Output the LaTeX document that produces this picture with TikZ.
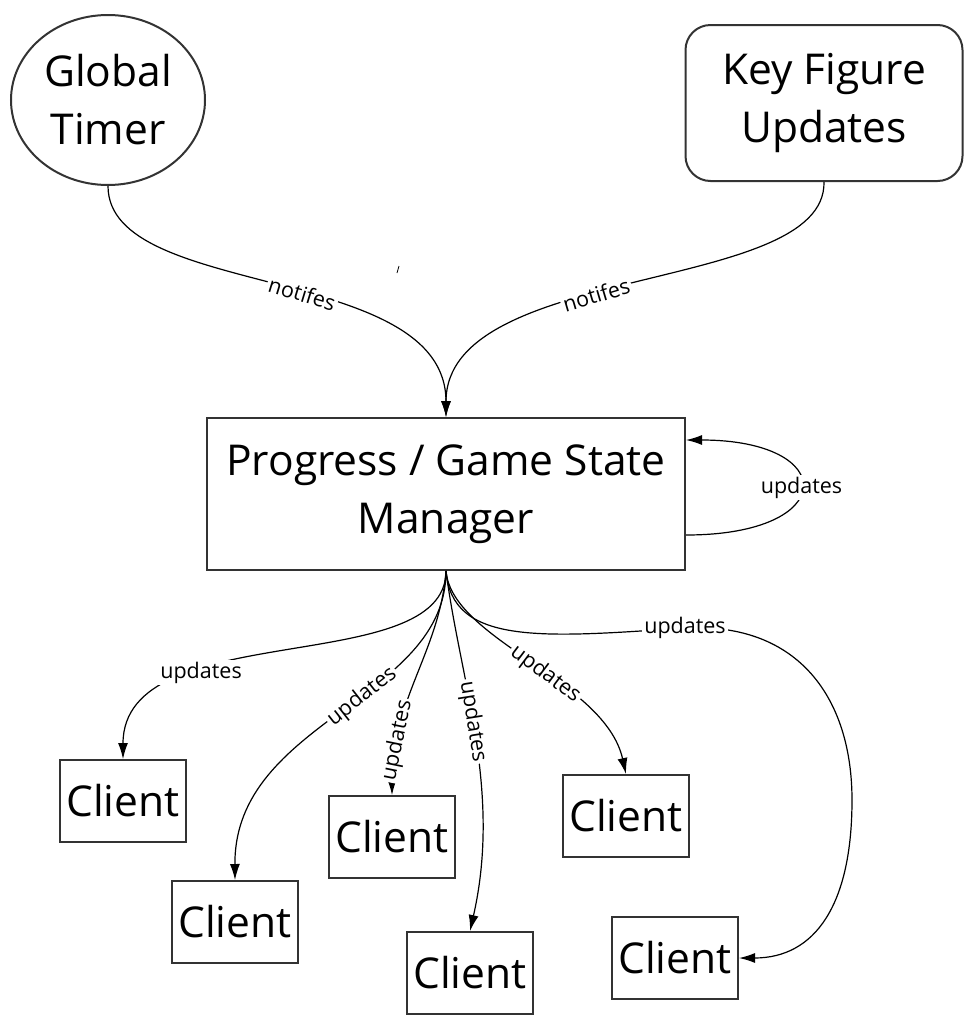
\documentclass[tikz,border=0pt]{standalone}
\usepackage{fontspec}
\setmainfont{Open Sans}
\usetikzlibrary{shapes.geometric,arrows.meta}

\tikzset{
  box/.style={draw=black!80, line width=2pt, minimum width=126pt, minimum height=82pt,
    inner sep=0pt, align=center, font=\fontsize{42.5}{58}\selectfont},
  lbl/.style={fill=white, inner sep=2pt, font=\fontsize{21.5}{24}\selectfont},
  flow/.style={line width=1.2pt, -{Latex[length=16pt,width=10pt]}},
}

\begin{document}
\begin{tikzpicture}[x=1pt,y=-1pt]
\useasboundingbox (0,0) rectangle (973,1026);
\node[box, ellipse, minimum width=194pt, minimum height=170pt](timer) at (108,100){Global\\Timer};
\node[box, rounded corners=25pt, minimum width=277pt, minimum height=156pt](keyfig) at (824,103){Key Figure\\Updates};
\node[box, minimum width=478pt, minimum height=152pt](pm) at (446,494){Progress / Game State\\Manager};
\node[box](c1) at (123,801){Client};
\node[box](c2) at (235,922){Client};
\node[box](c3) at (392,837){Client};
\node[box](c4) at (470,973){Client};
\node[box](c5) at (626,816){Client};
\node[box](c6) at (675,958){Client};
% notifications into the manager
\draw[flow] (timer.south) .. controls (108,300) and (446,262) .. (pm.north) node[lbl, sloped, pos=0.55]{notifes};
\draw[flow] (keyfig.south) .. controls (826,295) and (446,262) .. (pm.north) node[lbl, sloped, pos=0.57]{notifes};
\draw[line width=0.8pt] (399,266) -- (397,273);
% self update
\draw[flow] ([yshift=-41pt]pm.east) .. controls (840,535) and (840,440) .. ([yshift=54pt]pm.east) node[lbl, pos=0.5]{updates};
% updates to the clients
\draw[flow] (pm.south) .. controls (446,680) and (123,615) .. (c1.north) node[lbl, pos=0.68]{updates};
\draw[flow] (pm.south) .. controls (446,700) and (234,720) .. (c2.north) node[lbl, sloped, pos=0.43]{updates};
\draw[flow] (pm.south) .. controls (440,650) and (392,700) .. (c3.north) node[lbl, sloped, pos=0.79]{updates};
\draw[flow] (pm.south) .. controls (460,680) and (502,790) .. (c4.north) node[lbl, sloped, pos=0.45]{updates};
\draw[flow] (pm.south) .. controls (452,640) and (605,680) .. (c5.north) node[lbl, sloped, pos=0.56]{updates};
\draw[flow] (pm.south) .. controls (452,645) and (540,638) .. (685,628) node[lbl]{updates}
  .. controls (800,622) and (852,700) .. (852,800) .. controls (852,905) and (815,958) .. (c6.east);
\end{tikzpicture}
\end{document}
